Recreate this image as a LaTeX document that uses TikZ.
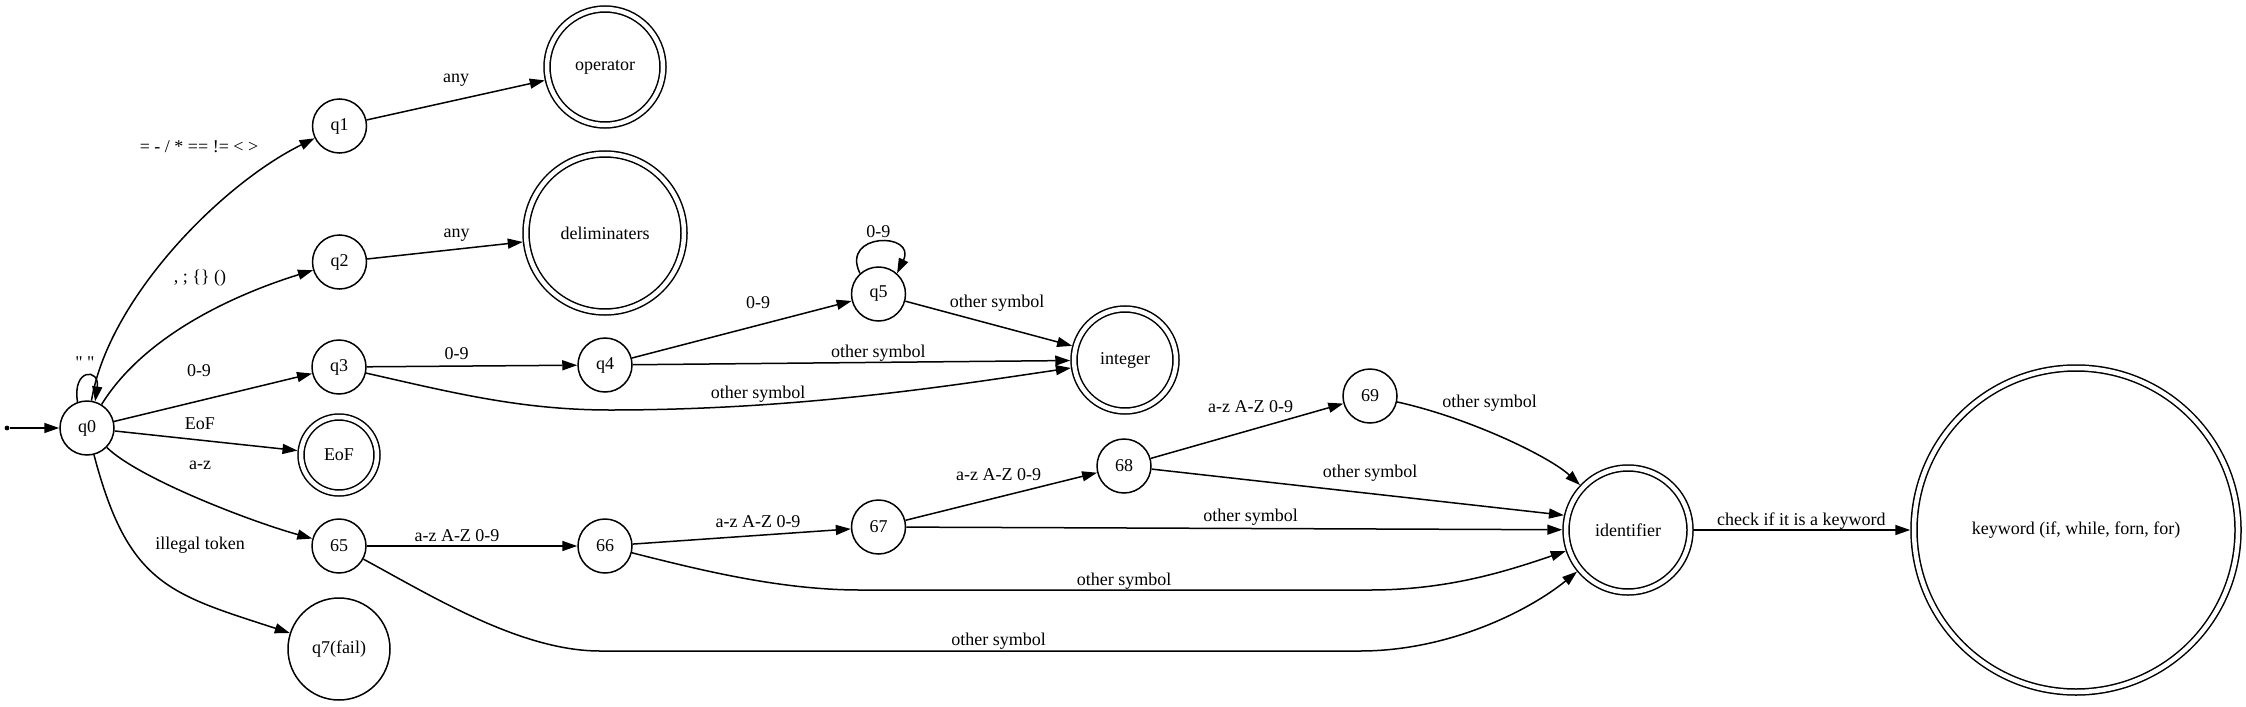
\documentclass[tikz,border=0pt]{standalone}
\usepackage{fontspec}
\setmainfont{Liberation Serif}
\newfontfamily\rawserif{Liberation Serif}
\usetikzlibrary{arrows.meta}
\tikzset{
  qs/.style={circle, draw, line width=0.75pt, inner sep=0pt, minimum size=27pt, outer sep=0.375pt},
  qacc/.style={circle, draw, line width=0.75pt, double, double distance=2.25pt, inner sep=0pt, outer sep=1.875pt},
  tr/.style={draw, line width=0.75pt, -{Triangle[length=7.5pt,width=5pt]}},
  lbl/.style={inner sep=0pt},
  startdot/.style={circle, fill, inner sep=0pt, minimum size=2.4pt},
}
\begin{document}
\begin{tikzpicture}[x=0.5pt,y=-0.5pt, font=\fontsize{9}{11}\selectfont]
\useasboundingbox (0,0) rectangle (2246,706);
% states
\node[startdot] (start) at (7,428) {};
\node[qs] (q0) at (87,428) {q0};
\node[qs] (q1) at (339.5,126) {q1};
\node[qs] (q2) at (339.5,262) {q2};
\node[qs] (q3) at (339,367) {q3};
\node[qacc, minimum size=38pt] (eof) at (339,455) {EoF};
\node[qs] (s65) at (339,546) {65};
\node[qs, minimum size=51pt] (q7) at (339,649) {q7(fail)};
\node[qacc, minimum size=58pt] (op) at (605,67) {operator};
\node[qacc, minimum size=79pt] (del) at (605,233) {deliminaters};
\node[qs] (q4) at (605,365) {q4};
\node[qs] (s66) at (605,546) {66};
\node[qs] (q5) at (878.5,294) {q5};
\node[qs] (s67) at (878.5,527) {67};
\node[qacc, minimum size=51pt] (int) at (1125,360) {integer};
\node[qs] (s68) at (1124,466) {68};
\node[qs] (s69) at (1370,396) {69};
\node[qacc, minimum size=62pt] (ident) at (1628,530) {identifier};
\node[qacc, minimum size=162pt] (kw) at (2076,530) {keyword (if, while, forn, for)};
% transitions
\draw[tr] (start) -- (q0);
\draw[tr] (q0.110) .. controls (72,368) and (100,368) .. (q0.73);
\draw[tr] (q0) .. controls (108,300) and (220,185) .. (q1);
\draw[tr] (q0) .. controls (144,336) and (233,295) .. (q2);
\draw[tr] (q0) -- (q3);
\draw[tr] (q0) -- (eof);
\draw[tr] (q0) .. controls (138,478) and (249,521) .. (s65);
\draw[tr] (q0) .. controls (128,585) and (170,594) .. (q7);
\draw[tr] (q1) -- (op);
\draw[tr] (q2) -- (del);
\draw[tr] (q3) -- (q4);
\draw[tr] (q3) .. controls (450,392) and (520,410) .. (610,410) .. controls (800,410) and (955,385) .. (int);
\draw[tr] (q4) -- (q5);
\draw[tr] (q4) -- (int);
\draw[tr] (q5.132) .. controls (840,232) and (917,232) .. (q5.48);
\draw[tr] (q5) -- (int);
\draw[tr] (s65) -- (s66);
\draw[tr] (s65) .. controls (430,595) and (520,651) .. (600,651) -- (1360,651) .. controls (1450,651) and (1530,610) .. (ident);
\draw[tr] (s66) -- (s67);
\draw[tr] (s66) .. controls (700,570) and (780,590) .. (860,590) -- (1370,590) .. controls (1450,590) and (1510,570) .. (ident);
\draw[tr] (s67) -- (s68);
\draw[tr] (s67) -- (ident);
\draw[tr] (s68) -- (s69);
\draw[tr] (s68) -- (ident.167);
\draw[tr] (s69) .. controls (1470,418) and (1550,457) .. (ident);
\draw[tr] (ident) -- (kw);
% labels
\node[lbl] (l1) at (85,363) {\rawserif " "};
\node[lbl] (l2) at (199,147) {= - / * == != < >};
\node[lbl] (l3) at (200,278) {, ; \{\} ()};
\node[lbl] (l4) at (199,371) {0-9};
\node[lbl] (l5) at (200,424) {EoF};
\node[lbl] (l6) at (200,465) {a-z};
\node[lbl] (l7) at (200,545) {illegal token};
\node[lbl] (l8) at (456,80) {any};
\node[lbl] (l9) at (456.7,235) {any};
\node[lbl] (l10) at (456.7,354) {0-9};
\node[lbl] (l11) at (758,394) {other symbol};
\node[lbl] (l12) at (758,303) {0-9};
\node[lbl] (l13) at (878.4,353) {other symbol};
\node[lbl] (l14) at (878.4,231.7) {0-9};
\node[lbl] (l15) at (997,302.7) {other symbol};
\node[lbl] (l16) at (457,536) {a-z A-Z 0-9};
\node[lbl] (l17) at (758,521.7) {a-z A-Z 0-9};
\node[lbl] (l18) at (998.6,475) {a-z A-Z 0-9};
\node[lbl] (l19) at (1250.5,406.7) {a-z A-Z 0-9};
\node[lbl] (l20) at (1489.7,403) {other symbol};
\node[lbl] (l21) at (1370,473.3) {other symbol};
\node[lbl] (l22) at (1250.5,517.3) {other symbol};
\node[lbl] (l23) at (1124,580.7) {other symbol};
\node[lbl] (l24) at (998.6,641) {other symbol};
\node[lbl] (l25) at (1801.4,520.7) {check if it is a keyword};
\end{tikzpicture}
\end{document}
